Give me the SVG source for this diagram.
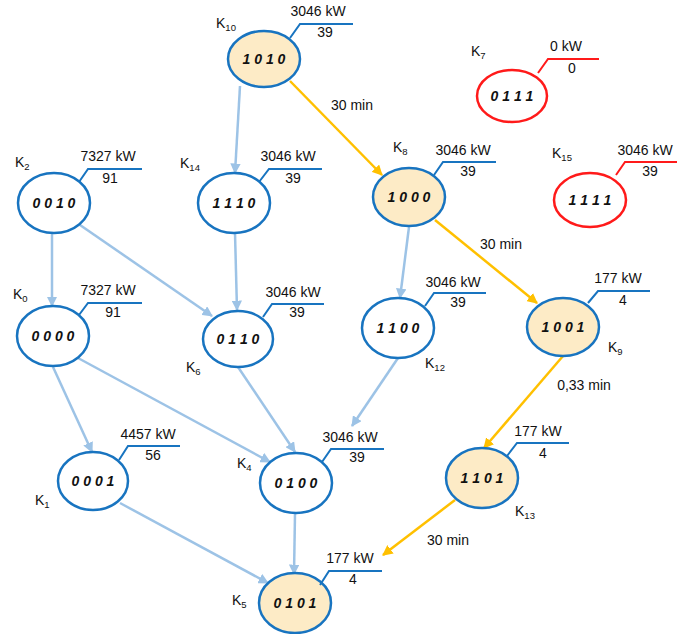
<svg xmlns="http://www.w3.org/2000/svg" width="688" height="634" viewBox="0 0 688 634">
<defs>
<style>
.nb{fill:#ffffff;stroke:#1874c0;stroke-width:2.5}
.ny{fill:#fdebc6;stroke:#1874c0;stroke-width:2.5}
.nr{fill:#ffffff;stroke:#ff1a1a;stroke-width:2.5}
.cb{fill:none;stroke:#1874c0;stroke-width:2}
.cr{fill:none;stroke:#ff1a1a;stroke-width:2}
.code{font-family:"Liberation Sans",Arial,sans-serif;font-size:14px;font-weight:bold;font-style:italic;fill:#111;text-anchor:middle}
.t{font-family:"Liberation Sans",Arial,sans-serif;font-size:14px;fill:#111;text-anchor:middle}
.k{font-family:"Liberation Sans",Arial,sans-serif;font-size:14px;fill:#111}
.sub{font-size:9.5px}
.eb{fill:none;stroke:#9dc3e6;stroke-width:2.5}
.eo{fill:none;stroke:#ffc000;stroke-width:2.5}
</style>
<marker id="ab" viewBox="0 0 10 10" refX="9" refY="5" markerWidth="4.2" markerHeight="4.2" markerUnits="strokeWidth" orient="auto"><path d="M0,0L10,5L0,10z" fill="#9dc3e6"/></marker>
<marker id="ao" viewBox="0 0 10 10" refX="9" refY="5" markerWidth="4.2" markerHeight="4.2" markerUnits="strokeWidth" orient="auto"><path d="M0,0L10,5L0,10z" fill="#ffc000"/></marker>
</defs>
<g id="connectors">
<line class="eb" x1="240" y1="86" x2="235" y2="173" marker-end="url(#ab)"/>
<line class="eo" x1="290" y1="81" x2="382" y2="175" marker-end="url(#ao)"/>
<line class="eb" x1="409" y1="227" x2="400" y2="298" marker-end="url(#ab)"/>
<line class="eo" x1="435" y1="220" x2="537" y2="303" marker-end="url(#ao)"/>
<line class="eo" x1="563" y1="356" x2="484" y2="448" marker-end="url(#ao)"/>
<line class="eo" x1="455" y1="500" x2="383" y2="555" marker-end="url(#ao)"/>
<line class="eb" x1="52" y1="233" x2="52" y2="306" marker-end="url(#ab)"/>
<line class="eb" x1="80" y1="225" x2="212" y2="316" marker-end="url(#ab)"/>
<line class="eb" x1="235" y1="233" x2="237" y2="310" marker-end="url(#ab)"/>
<line class="eb" x1="53" y1="367" x2="92" y2="452" marker-end="url(#ab)"/>
<line class="eb" x1="78" y1="358" x2="270" y2="462" marker-end="url(#ab)"/>
<line class="eb" x1="238" y1="367" x2="295" y2="452" marker-end="url(#ab)"/>
<line class="eb" x1="398" y1="358" x2="352" y2="426" marker-end="url(#ab)"/>
<line class="eb" x1="120" y1="503" x2="268" y2="583" marker-end="url(#ab)"/>
<line class="eb" x1="295" y1="514" x2="294" y2="574" marker-end="url(#ab)"/>
<text class="t" x="352" y="110">30 min</text>
<text class="t" x="501" y="249">30 min</text>
<text class="t" x="584" y="390">0,33 min</text>
<text class="t" x="448" y="545">30 min</text>
</g>
<g id="K10">
<ellipse class="ny" cx="264" cy="59" rx="36" ry="28"/>
<text class="code" x="264" y="64">1 0 1 0</text>
<polyline class="cb" points="290,38 300,24 353,24"/>
<text class="t" x="318" y="16">3046 kW</text>
<text class="t" x="325" y="37">39</text>
<text class="k" x="216" y="28">K<tspan class="sub" dy="3">10</tspan></text>
</g>
<g id="K7">
<ellipse class="nr" cx="512" cy="96" rx="35" ry="26"/>
<text class="code" x="512" y="101">0 1 1 1</text>
<polyline class="cr" points="538,73 548,59 599,59"/>
<text class="t" x="566" y="51">0 kW</text>
<text class="t" x="572" y="73">0</text>
<text class="k" x="471" y="56">K<tspan class="sub" dy="3">7</tspan></text>
</g>
<g id="K2">
<ellipse class="nb" cx="54" cy="203" rx="36" ry="30"/>
<text class="code" x="54" y="208">0 0 1 0</text>
<polyline class="cb" points="79,182 88,169 142,169"/>
<text class="t" x="108" y="161">7327 kW</text>
<text class="t" x="110" y="183">91</text>
<text class="k" x="15" y="167">K<tspan class="sub" dy="3">2</tspan></text>
</g>
<g id="K14">
<ellipse class="nb" cx="234" cy="203" rx="36" ry="30"/>
<text class="code" x="234" y="208">1 1 1 0</text>
<polyline class="cb" points="259,182 269,169 322,169"/>
<text class="t" x="288" y="161">3046 kW</text>
<text class="t" x="293" y="183">39</text>
<text class="k" x="180" y="168">K<tspan class="sub" dy="3">14</tspan></text>
</g>
<g id="K8">
<ellipse class="ny" cx="409" cy="197" rx="36" ry="29"/>
<text class="code" x="409" y="202">1 0 0 0</text>
<polyline class="cb" points="434,175 443,162 496,162"/>
<text class="t" x="463" y="155">3046 kW</text>
<text class="t" x="468" y="176">39</text>
<text class="k" x="393" y="152">K<tspan class="sub" dy="3">8</tspan></text>
</g>
<g id="K15">
<ellipse class="nr" cx="590" cy="200" rx="36" ry="27"/>
<text class="code" x="590" y="205">1 1 1 1</text>
<polyline class="cr" points="616,175 625,162 677,162"/>
<text class="t" x="645" y="155">3046 kW</text>
<text class="t" x="650" y="176">39</text>
<text class="k" x="552" y="158">K<tspan class="sub" dy="3">15</tspan></text>
</g>
<g id="K0">
<ellipse class="nb" cx="53" cy="336" rx="36" ry="30"/>
<text class="code" x="53" y="341">0 0 0 0</text>
<polyline class="cb" points="79,315 88,303 142,303"/>
<text class="t" x="108" y="295">7327 kW</text>
<text class="t" x="113" y="317">91</text>
<text class="k" x="13" y="299">K<tspan class="sub" dy="3">0</tspan></text>
</g>
<g id="K6">
<ellipse class="nb" cx="238" cy="339" rx="35" ry="28"/>
<text class="code" x="238" y="344">0 1 1 0</text>
<polyline class="cb" points="263,317 272,304 324,304"/>
<text class="t" x="293" y="297">3046 kW</text>
<text class="t" x="297" y="317">39</text>
<text class="k" x="186" y="372">K<tspan class="sub" dy="3">6</tspan></text>
</g>
<g id="K12">
<ellipse class="nb" cx="398" cy="328" rx="36" ry="30"/>
<text class="code" x="398" y="333">1 1 0 0</text>
<polyline class="cb" points="425,306 434,293 486,293"/>
<text class="t" x="453" y="287">3046 kW</text>
<text class="t" x="458" y="307">39</text>
<text class="k" x="425" y="368">K<tspan class="sub" dy="3">12</tspan></text>
</g>
<g id="K9">
<ellipse class="ny" cx="563" cy="327" rx="36" ry="29"/>
<text class="code" x="563" y="332">1 0 0 1</text>
<polyline class="cb" points="588,303 598,291 650,291"/>
<text class="t" x="618" y="283">177 kW</text>
<text class="t" x="623" y="305">4</text>
<text class="k" x="608" y="352">K<tspan class="sub" dy="3">9</tspan></text>
</g>
<g id="K1">
<ellipse class="nb" cx="93" cy="481" rx="35" ry="29"/>
<text class="code" x="93" y="486">0 0 0 1</text>
<polyline class="cb" points="119,460 128,446 180,446"/>
<text class="t" x="148" y="439">4457 kW</text>
<text class="t" x="153" y="460">56</text>
<text class="k" x="35" y="505">K<tspan class="sub" dy="3">1</tspan></text>
</g>
<g id="K4">
<ellipse class="nb" cx="296" cy="483" rx="36" ry="30"/>
<text class="code" x="296" y="488">0 1 0 0</text>
<polyline class="cb" points="322,462 331,449 384,449"/>
<text class="t" x="350" y="442">3046 kW</text>
<text class="t" x="357" y="462">39</text>
<text class="k" x="237" y="468">K<tspan class="sub" dy="3">4</tspan></text>
</g>
<g id="K13">
<ellipse class="ny" cx="482" cy="478" rx="36" ry="30"/>
<text class="code" x="482" y="483">1 1 0 1</text>
<polyline class="cb" points="507,456 517,443 569,443"/>
<text class="t" x="538" y="436">177 kW</text>
<text class="t" x="543" y="458">4</text>
<text class="k" x="515" y="516">K<tspan class="sub" dy="3">13</tspan></text>
</g>
<g id="K5">
<ellipse class="ny" cx="295" cy="603" rx="36" ry="30"/>
<text class="code" x="295" y="608">0 1 0 1</text>
<polyline class="cb" points="320,585 329,571 382,571"/>
<text class="t" x="350" y="563">177 kW</text>
<text class="t" x="353" y="584">4</text>
<text class="k" x="232" y="605">K<tspan class="sub" dy="3">5</tspan></text>
</g>
</svg>
